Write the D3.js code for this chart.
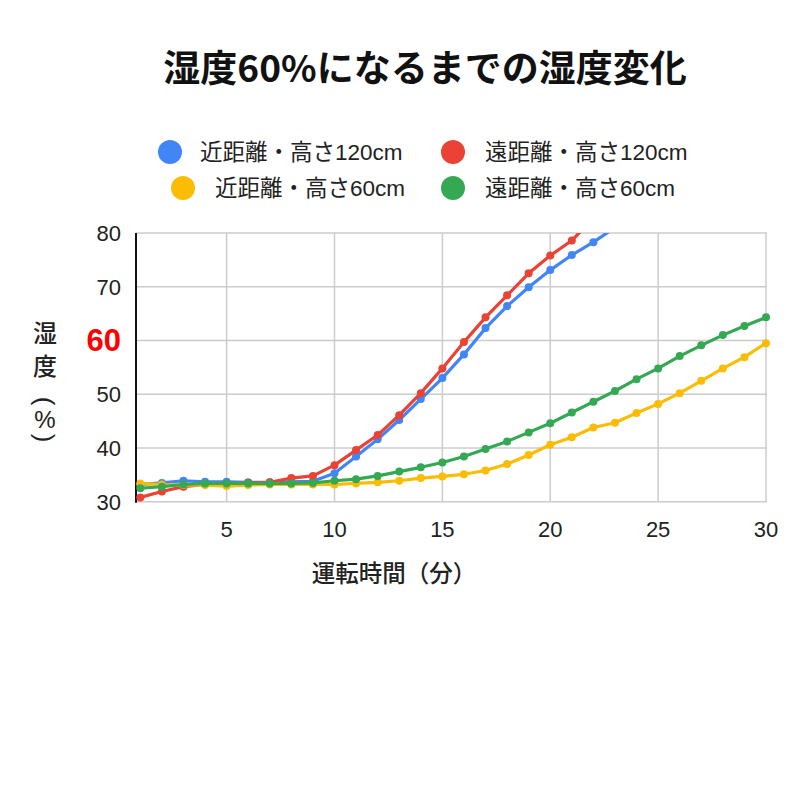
<!DOCTYPE html>
<html>
<head>
<meta charset="utf-8">
<script src="https://cdn.jsdelivr.net/npm/d3@7"></script>
<style>
  body { margin: 0; background: #fff; }
  svg { display: block; }
  text { font-family: "Noto Sans CJK JP", "Noto Sans", sans-serif; fill: #222; }
  .tick-num { font-family: "Liberation Sans", Arial, sans-serif; }
  .legend-text { font-family: "Liberation Sans", "Noto Sans CJK JP", sans-serif; }
</style>
</head>
<body>
<div id="chart"></div>
<script>
// 運転時間（分）
const minutes = d3.range(1, 31);

// 各条件の湿度（%）— 図から読み取った値
const nearHigh = [33.2, 33.5, 33.9, 33.7, 33.7, 33.6, 33.6, 33.7, 33.8, 35.3,
  38.4, 41.6, 45.2, 49.1, 53.0, 57.4, 62.3, 66.4, 69.9, 73.1,
  75.9, 78.3, 81.0];
const farHigh = [30.8, 31.9, 32.8, 33.2, 33.3, 33.5, 33.6, 34.4, 34.8, 36.8,
  39.6, 42.4, 46.1, 50.2, 54.8, 59.7, 64.3, 68.4, 72.5, 75.8,
  78.6, 82.8];
const nearLow = [33.4, 33.2, 33.1, 33.1, 32.9, 33.1, 33.2, 33.2, 33.2, 33.2,
  33.4, 33.6, 33.9, 34.4, 34.7, 35.1, 35.8, 37.0, 38.7, 40.6,
  42.0, 43.8, 44.7, 46.5, 48.2, 50.2, 52.5, 54.8, 56.9, 59.5];
const farLow = [32.5, 32.8, 33.2, 33.4, 33.4, 33.4, 33.4, 33.4, 33.5, 33.9,
  34.2, 34.8, 35.6, 36.4, 37.3, 38.4, 39.8, 41.2, 42.9, 44.6,
  46.6, 48.6, 50.6, 52.8, 54.8, 57.1, 59.1, 61.0, 62.7, 64.3];

const seriesNames = ["近距離・高さ120cm", "遠距離・高さ120cm", "近距離・高さ60cm", "遠距離・高さ60cm"];
const seriesColors = ["#4285F4", "#EA4335", "#FBBC04", "#34A853"];
const seriesValues = [nearHigh, farHigh, nearLow, farLow];

const xTicks = [5, 10, 15, 20, 25, 30];
const yTicks = [30, 40, 50, 60, 70, 80];

const W = 800, H = 800;
const svg = d3.select("#chart").append("svg").attr("width", W).attr("height", H);
svg.append("rect").attr("width", W).attr("height", H).attr("fill", "#fff");

const x = d3.scaleLinear().domain([0.8, 30]).range([136, 766]);
const y = d3.scaleLinear().domain([30, 80]).range([501.7, 233]);

// タイトル
svg.append("text")
  .attr("x", 425).attr("y", 82)
  .attr("text-anchor", "middle")
  .attr("font-size", 37).attr("font-weight", 700)
  .style("fill", "#111")
  .text("湿度60%になるまでの湿度変化");

// 凡例
const legendPos = [[170, 152, 200], [453, 152, 485], [183, 188, 215], [453, 188, 485]];
seriesNames.forEach((name, i) => {
  const p = legendPos[i];
  svg.append("circle").attr("cx", p[0]).attr("cy", p[1]).attr("r", 12).attr("fill", seriesColors[i]);
  svg.append("text").attr("class", "legend-text").attr("x", p[2]).attr("y", p[1] + 8)
    .attr("font-size", 22.5).text(name);
});

// グリッド
const grid = svg.append("g");
grid.selectAll(".hg").data(yTicks).join("line")
  .attr("x1", 136).attr("x2", 767)
  .attr("y1", d => y(d)).attr("y2", d => y(d))
  .attr("stroke", "#ccc").attr("stroke-width", 1.5);
grid.selectAll(".vg").data(xTicks).join("line")
  .attr("x1", d => x(d)).attr("x2", d => x(d))
  .attr("y1", y(80)).attr("y2", y(30))
  .attr("stroke", "#ccc").attr("stroke-width", 1.5);

// Y軸ラベル
svg.append("g").selectAll("text").data(yTicks).join("text")
  .attr("class", "tick-num")
  .attr("x", 121)
  .attr("y", d => y(d) + (d === 60 ? 11 : 8))
  .attr("text-anchor", "end")
  .attr("font-size", d => d === 60 ? 31 : 22)
  .attr("font-weight", d => d === 60 ? 700 : 400)
  .style("fill", d => d === 60 ? "#ff0000" : "#222")
  .text(d => d);

// X軸ラベル
svg.append("g").selectAll("text").data(xTicks).join("text")
  .attr("class", "tick-num")
  .attr("x", d => x(d)).attr("y", 537)
  .attr("text-anchor", "middle")
  .attr("font-size", 22)
  .text(d => d);

// 軸タイトル
svg.append("text").attr("x", 394).attr("y", 582)
  .attr("text-anchor", "middle").attr("font-size", 23.5).attr("font-weight", 500)
  .text("運転時間（分）");

// 縦書きの軸タイトル
const yTitle = svg.append("g").attr("font-weight", 500);
yTitle.append("text").attr("x", 45).attr("y", 342)
  .attr("text-anchor", "middle").attr("font-size", 24).text("湿");
yTitle.append("text").attr("x", 45).attr("y", 375)
  .attr("text-anchor", "middle").attr("font-size", 24).text("度");
yTitle.append("text").attr("class", "tick-num")
  .attr("x", 45).attr("y", 401).attr("dominant-baseline", "central")
  .attr("text-anchor", "middle").attr("font-size", 26)
  .attr("transform", "rotate(90,45,401)").text("(");
yTitle.append("text").attr("class", "tick-num")
  .attr("x", 45).attr("y", 428)
  .attr("text-anchor", "middle").attr("font-size", 24).text("%");
yTitle.append("text").attr("class", "tick-num")
  .attr("x", 45).attr("y", 438).attr("dominant-baseline", "central")
  .attr("text-anchor", "middle").attr("font-size", 26)
  .attr("transform", "rotate(90,45,438)").text(")");

// 左軸線
svg.append("line").attr("x1", 136).attr("x2", 136)
  .attr("y1", y(80)).attr("y2", y(30) + 1)
  .attr("stroke", "#111").attr("stroke-width", 2);

// 系列
svg.append("clipPath").attr("id", "clip")
  .append("rect").attr("x", 120).attr("y", y(80)).attr("width", 670).attr("height", 300);

const plot = svg.append("g").attr("clip-path", "url(#clip)");
const line = d3.line().x(d => x(d[0])).y(d => y(d[1]));

seriesValues.forEach((vals, i) => {
  const pts = vals.map((v, j) => [minutes[j], v]);
  const g = plot.append("g");
  g.append("path").datum(pts)
    .attr("d", line).attr("fill", "none")
    .attr("stroke", seriesColors[i]).attr("stroke-width", 3.2)
    .attr("stroke-linejoin", "round");
  g.selectAll("circle").data(pts).join("circle")
    .attr("cx", d => x(d[0])).attr("cy", d => y(d[1]))
    .attr("r", 4).attr("fill", seriesColors[i]);
});
</script>
</body>
</html>
